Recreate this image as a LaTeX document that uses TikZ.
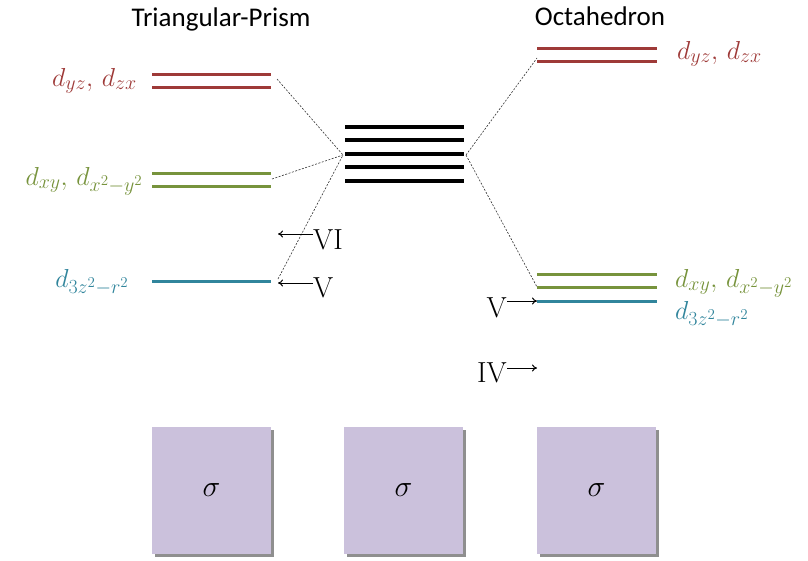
\documentclass[tikz,border=0pt]{standalone}
\usepackage{fix-cm}
\usepackage{fontspec}
\newfontfamily\titlefont{Carlito}
\DeclareMathSizes{26}{26}{20}{15}
\DeclareMathSizes{30}{30}{22}{16}
\usetikzlibrary{arrows.meta,shadows}
\definecolor{lvred}{RGB}{158,58,56}
\definecolor{lvgreen}{RGB}{119,147,60}
\definecolor{lvblue}{RGB}{49,133,156}
\definecolor{boxfill}{RGB}{203,193,220}
\tikzset{
  lev/.style={line width=3pt},
  blev/.style={line width=3.6pt,black},
  conn/.style={dashed,dash pattern=on 2pt off 1.5pt,line width=0.6pt,black!80},
  arr/.style={-{To[length=5pt,width=7pt]},line width=1pt},
  title/.style={font=\titlefont\fontsize{27}{30}\selectfont,inner sep=0pt},
  lab/.style={font=\fontsize{26}{30}\selectfont,inner sep=0pt},
  roman/.style={font=\fontsize{29}{33}\selectfont,inner sep=0pt},
  sbox/.style={fill=boxfill,minimum width=119pt,minimum height=127pt,inner sep=0pt,
    drop shadow={shadow xshift=3pt,shadow yshift=-3pt,fill=black!55,opacity=0.8},
    font=\fontsize{30}{34}\selectfont}
}
\begin{document}
\begin{tikzpicture}[x=1pt,y=-1pt]
\useasboundingbox (0,0) rectangle (808,560);
% titles
\node[title,anchor=base] (tp) at (221,26) {Triangular-Prism};
\node[title,anchor=base] (oc) at (600,25) {Octahedron};
% left levels
\draw[lev,lvred] (152,74) -- (271,74);
\draw[lev,lvred] (152,87) -- (271,87);
\draw[lev,lvgreen] (152,173) -- (271,173);
\draw[lev,lvgreen] (152,186) -- (271,186);
\draw[lev,lvblue] (152,281) -- (271,281);
% center levels
\foreach \yy in {127,140,154,167,181} \draw[blev] (345,\yy) -- (464,\yy);
% right levels
\draw[lev,lvred] (537,48) -- (657,48);
\draw[lev,lvred] (537,61) -- (657,61);
\draw[lev,lvgreen] (537,274) -- (657,274);
\draw[lev,lvgreen] (537,287) -- (657,287);
\draw[lev,lvblue] (537,301) -- (657,301);
% connector endpoints
\coordinate (cL) at (343,155);
\coordinate (cR) at (466,155);
\coordinate (lR) at (277,79);
\coordinate (lG) at (272,179);
\coordinate (lB) at (278,279);
\coordinate (rR) at (537,58);
\coordinate (rG) at (537,287);
\draw[conn] (lR) -- (cL);
\draw[conn] (lG) -- (cL);
\draw[conn] (lB) -- (cL);
\draw[conn] (cR) -- (rR);
\draw[conn] (cR) -- (rG);
% labels
\node[lab,text=lvred,anchor=base east] (l1) at (137,86) {$d_{yz},\, d_{zx}$};
\node[lab,text=lvgreen,anchor=base east] (l2) at (143,185) {$d_{xy},\, d_{x^2-y^2}$};
\node[lab,text=lvblue,anchor=base east] (l3) at (129,287) {$d_{3z^2-r^2}$};
\node[lab,text=lvred,anchor=base west] (r1) at (677,59) {$d_{yz},\, d_{zx}$};
\node[lab,text=lvgreen,anchor=base west] (r2) at (675,287) {$d_{xy},\, d_{x^2-y^2}$};
\node[lab,text=lvblue,anchor=base west] (r3) at (675,319) {$d_{3z^2-r^2}$};
% roman numerals and arrows
\node[roman,anchor=base west] (vi) at (313,249) {VI};
\node[roman,anchor=base west] (vl) at (313,297) {V};
\node[roman,anchor=base east] (vr) at (507,317) {V};
\node[roman,anchor=base east] (iv) at (507,382) {IV};
\coordinate (aVI) at (278,234);
\coordinate (aVl) at (278,283);
\coordinate (aVr) at (537,301);
\coordinate (aIV) at (537,368);
\draw[arr] (vi.west |- aVI) -- (aVI);
\draw[arr] (vl.west |- aVl) -- (aVl);
\draw[arr] (vr.east |- aVr) -- (aVr);
\draw[arr] (iv.east |- aIV) -- (aIV);
% boxes
\node[sbox] (s1) at (211.5,490.5) {$\sigma$};
\node[sbox] (s2) at (403.5,490.5) {$\sigma$};
\node[sbox] (s3) at (596.5,490.5) {$\sigma$};
\end{tikzpicture}
\end{document}
